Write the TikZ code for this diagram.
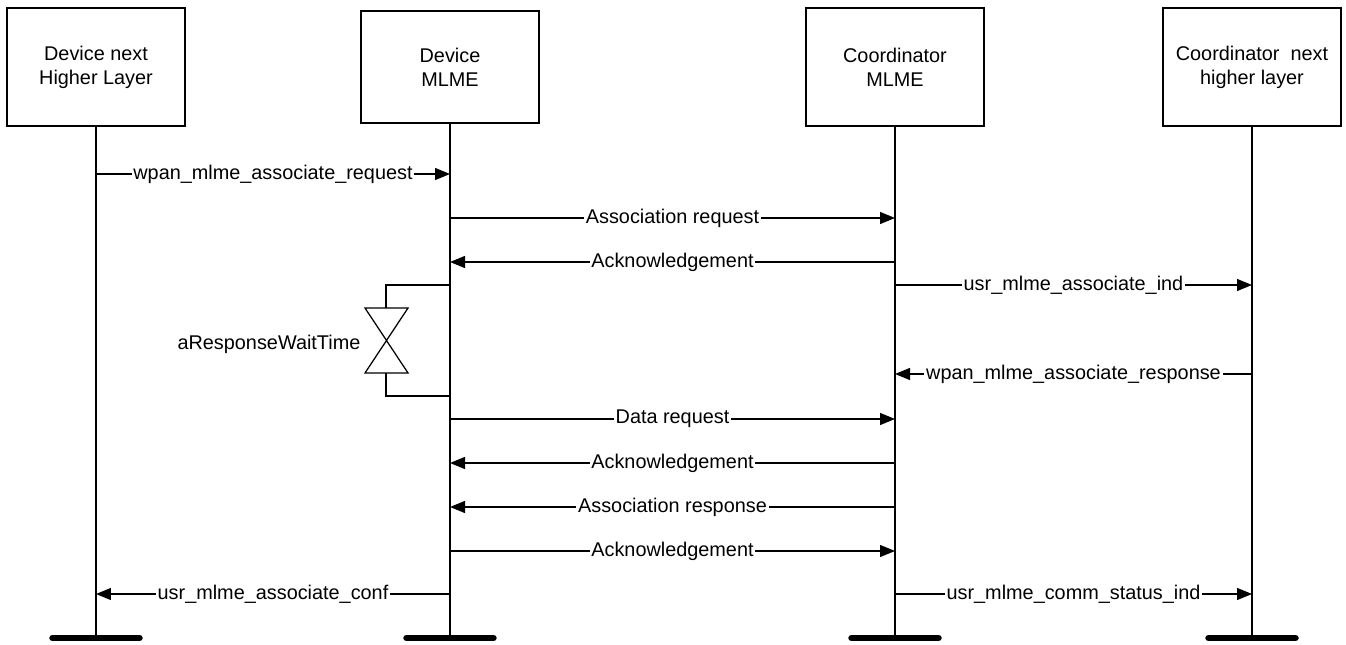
\documentclass[tikz,border=0pt]{standalone}
\usepackage{fontspec}
\setmainfont{Liberation Sans}
\usetikzlibrary{arrows.meta}

\begin{document}
\begin{tikzpicture}[x=0.02cm, y=-0.02cm, line width=0.025cm,
  font=\fontsize{11.3}{13.8}\selectfont,
  msg/.style={-{Triangle[length=0.3cm,width=0.24cm]}},
  lbl/.style={fill=white, inner sep=1pt},
  endbar/.style={line width=0.13cm, line cap=round}]
\useasboundingbox (0,0) rectangle (1346,645);

\begin{scope}[every node/.style={draw, minimum width=3.56cm, minimum height=2.36cm, align=center}]
\node (dnhl) at (96,67) {Device next\\Higher Layer};
\node[minimum height=2.24cm] (dml) at (450,67) {Device\\MLME};
\node (cml) at (895,67) {Coordinator\\MLME};
\node (cnhl) at (1252,67) {Coordinator~~next\\higher layer};
\end{scope}

% lifelines and end bars
\foreach \n in {dnhl, dml, cml, cnhl} {
  \coordinate (\n end) at (\n.south |- 0,638);
  \draw (\n.south) -- (\n end);
  \draw[endbar] ([xshift=-0.87cm]\n end) -- ([xshift=0.87cm]\n end);
}

% messages
\draw[msg] (dnhl.south |- 0,174) -- node[lbl]{wpan\_mlme\_associate\_request} (dml.south |- 0,174);
\draw[msg] (dml.south |- 0,218) -- node[lbl]{Association request} (cml.south |- 0,218);
\draw[msg] (cml.south |- 0,262) -- node[lbl]{Acknowledgement} (dml.south |- 0,262);
\draw[msg] (cml.south |- 0,285) -- node[lbl]{usr\_mlme\_associate\_ind} (cnhl.south |- 0,285);
\draw[msg] (cnhl.south |- 0,374) -- node[lbl]{wpan\_mlme\_associate\_response} (cml.south |- 0,374);
\draw[msg] (dml.south |- 0,419) -- node[lbl]{Data request} (cml.south |- 0,419);
\draw[msg] (cml.south |- 0,463) -- node[lbl]{Acknowledgement} (dml.south |- 0,463);
\draw[msg] (cml.south |- 0,507) -- node[lbl]{Association response} (dml.south |- 0,507);
\draw[msg] (dml.south |- 0,551) -- node[lbl]{Acknowledgement} (cml.south |- 0,551);
\draw[msg] (dml.south |- 0,594) -- node[lbl]{usr\_mlme\_associate\_conf} (dnhl.south |- 0,594);
\draw[msg] (cml.south |- 0,594) -- node[lbl]{usr\_mlme\_comm\_status\_ind} (cnhl.south |- 0,594);

% response wait time
\coordinate (wt) at (386,340);
\draw (dml.south |- 0,285) -- (386,285) -- (386,308);
\draw (365,308) -- (408,308) -- (365,373) -- (408,373) -- cycle;
\draw (386,373) -- (386,396) -- (dml.south |- 0,396);
\node[anchor=east, inner sep=0pt] (wtlbl) at (361,344) {aResponseWaitTime};
\end{tikzpicture}
\end{document}
